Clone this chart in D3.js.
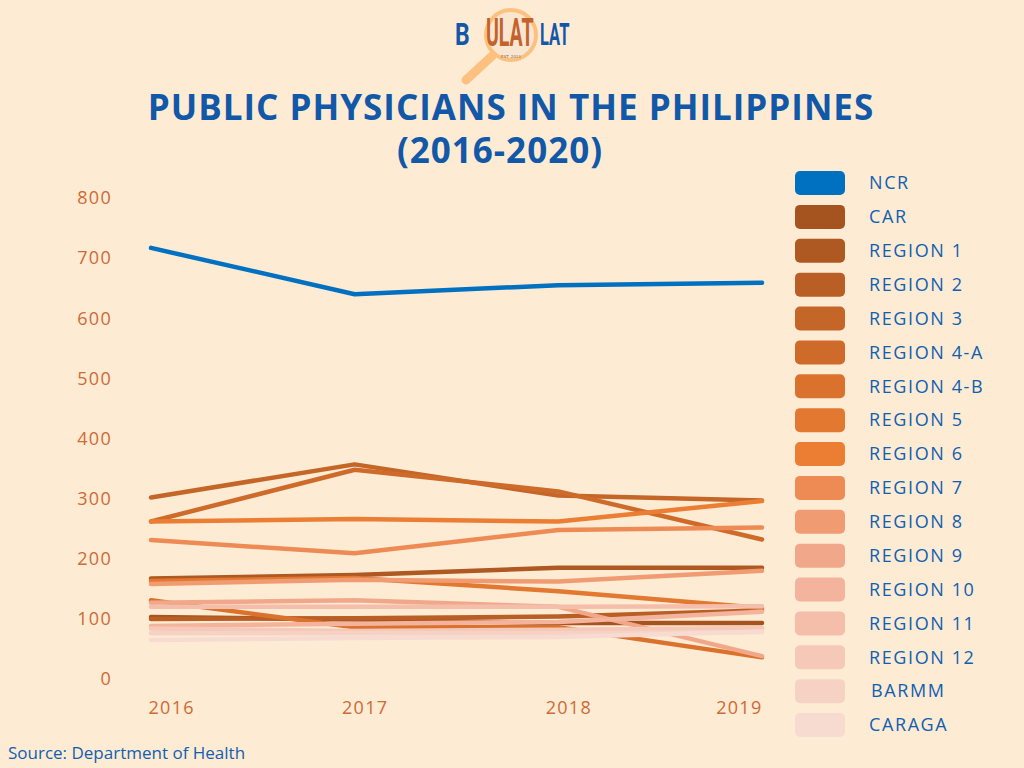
<!DOCTYPE html>
<html>
<head>
<meta charset="utf-8">
<script src="https://cdn.jsdelivr.net/npm/d3@7"></script>
<style>
  body { margin: 0; background: #feebd4; }
  svg { display: block; }
</style>
</head>
<body>
<div id="chart"></div>
<script>
// chart data
var years = ["2016", "2017", "2018", "2019"];
var regions = ["NCR", "CAR", "REGION 1", "REGION 2", "REGION 3", "REGION 4-A", "REGION 4-B",
  "REGION 5", "REGION 6", "REGION 7", "REGION 8", "REGION 9", "REGION 10", "REGION 11",
  "REGION 12", "BARMM", "CARAGA"];
var ncr = [717, 640, 655, 659];
var car = [103, 99, 93, 93];
var region1 = [167, 173, 185, 185];
var region2 = [100, 101, 104, 114];
var region3 = [302, 357, 305, 297];
var region4a = [262, 348, 312, 232];
var region4b = [131, 86, 86, 36];
var region5 = [163, 168, 146, 118];
var region6 = [262, 266, 262, 296];
var region7 = [231, 209, 248, 252];
var region8 = [158, 165, 162, 180];
var region9 = [127, 131, 120, 38];
var region10 = [88, 92, 95, 112];
var region11 = [120, 120, 120, 121];
var region12 = [84, 80, 82, 85];
var barmm = [76, 76, 76, 78];
var caraga = [65, 68, 70, 79];
var yTicks = [0, 100, 200, 300, 400, 500, 600, 700, 800];

var seriesValues = [ncr, car, region1, region2, region3, region4a, region4b, region5, region6,
  region7, region8, region9, region10, region11, region12, barmm, caraga];

var colors = ["#0070c0", "#a5531f", "#ae5822", "#b95e24", "#c46628", "#cf6b2a", "#da722e",
  "#e37831", "#ec7e33", "#ee8b55", "#f09b72", "#f1a88a", "#f3b39d", "#f4beab", "#f5c8b8",
  "#f6d2c5", "#f7dbd1"];

var blue = "#1060b0";
var tickColor = "#cd6a35";

var svgWidth = 1024;
var svgHeight = 768;

var svg = d3.select("#chart")
  .append("svg")
  .attr("width", svgWidth)
  .attr("height", svgHeight);

svg.append("rect")
  .attr("width", svgWidth)
  .attr("height", svgHeight)
  .attr("fill", "#feebd4");

// logo (magnifier + tall narrow letters, stretched vertically)
var logo = svg.append("g");
logo.append("line")
  .attr("x1", 492).attr("y1", 56)
  .attr("x2", 466).attr("y2", 80)
  .attr("stroke", "#fdc17f")
  .attr("stroke-width", 9)
  .attr("stroke-linecap", "round");
logo.append("circle")
  .attr("cx", 511).attr("cy", 35).attr("r", 25)
  .attr("fill", "#f8e6d0")
  .attr("stroke", "#fdc17f")
  .attr("stroke-width", 4);

function logoText(x, y, size, sy, str, color) {
  logo.append("text")
    .attr("transform", `translate(${x}, ${y}) scale(1, ${sy})`)
    .attr("font-family", "Roboto, sans-serif")
    .attr("font-weight", "bold")
    .attr("font-size", size)
    .attr("fill", color)
    .text(str);
}
logoText(455, 45, 23, 1.35, "B", "#1358a8");
logoText(486, 46, 19.5, 2.0, "ULAT", "#c4622d");
logoText(540, 45, 16.5, 1.85, "LAT", "#1358a8");
logo.append("text")
  .attr("x", 511).attr("y", 58)
  .attr("text-anchor", "middle")
  .attr("font-family", "DejaVu Sans, sans-serif")
  .attr("font-size", 4)
  .attr("fill", "#8a6a55")
  .text("EST.   2013");

// title
svg.append("text")
  .attr("x", 511).attr("y", 120)
  .attr("text-anchor", "middle")
  .attr("font-family", "Open Sans, sans-serif")
  .attr("font-weight", "bold")
  .attr("font-size", 35)
  .attr("letter-spacing", "1px")
  .attr("fill", "#1158a8")
  .text("PUBLIC PHYSICIANS IN THE PHILIPPINES");
svg.append("text")
  .attr("x", 500).attr("y", 163)
  .attr("text-anchor", "middle")
  .attr("font-family", "Open Sans, sans-serif")
  .attr("font-weight", "bold")
  .attr("font-size", 35)
  .attr("letter-spacing", "1px")
  .attr("fill", "#1158a8")
  .text("(2016-2020)");

// scales
var xScale = d3.scalePoint()
  .domain(years)
  .range([151, 762]);

var yScale = d3.scaleLinear()
  .domain([0, 800])
  .range([679, 198]);

// y axis labels only, no lines
var yAxis = d3.axisLeft(yScale).tickValues(yTicks).tickSize(0).tickPadding(0);
var yAxisGroup = svg.append("g")
  .attr("transform", "translate(112, 0)")
  .call(yAxis);
yAxisGroup.select(".domain").remove();
yAxisGroup.selectAll("text")
  .attr("font-family", "Open Sans, sans-serif")
  .attr("font-size", 18)
  .attr("letter-spacing", "1.3px")
  .attr("fill", tickColor);

// x axis labels: first flush left, last flush right, middle ones a bit right
var xAxis = d3.axisBottom(xScale).tickSize(0).tickPadding(0);
var xAxisGroup = svg.append("g")
  .attr("transform", "translate(0, 701)")
  .call(xAxis);
xAxisGroup.select(".domain").remove();
xAxisGroup.selectAll("text")
  .attr("font-family", "Open Sans, sans-serif")
  .attr("font-size", 18)
  .attr("letter-spacing", "1.3px")
  .attr("fill", tickColor)
  .attr("text-anchor", (d, i) => i === 0 ? "start" : (i === years.length - 1 ? "end" : "middle"))
  .attr("dx", (d, i) => i === 0 ? -3 : (i === years.length - 1 ? 0 : 10));

// lines
var line = d3.line()
  .x((d, i) => xScale(years[i]))
  .y(d => yScale(d));

svg.append("g")
  .selectAll("path")
  .data(seriesValues)
  .enter()
  .append("path")
  .attr("d", d => line(d))
  .attr("fill", "none")
  .attr("stroke", (d, i) => colors[i])
  .attr("stroke-width", 4.5)
  .attr("stroke-linecap", "round")
  .attr("stroke-linejoin", "round");

// legend
var legendY = d3.scalePoint()
  .domain(regions)
  .range([183, 725]);

var legend = svg.append("g")
  .selectAll("g")
  .data(regions)
  .enter()
  .append("g")
  .attr("transform", d => `translate(0, ${legendY(d)})`);

legend.append("rect")
  .attr("x", 795)
  .attr("y", -12)
  .attr("width", 50)
  .attr("height", 24)
  .attr("rx", 5)
  .attr("fill", (d, i) => colors[i]);

legend.append("text")
  .attr("x", (d) => d === "BARMM" ? 871 : 869)
  .attr("y", 0)
  .attr("dy", "0.35em")
  .attr("font-family", "Open Sans, sans-serif")
  .attr("font-size", 18)
  .attr("letter-spacing", "1.6px")
  .attr("fill", blue)
  .text(d => d);

// source
svg.append("text")
  .attr("x", 8).attr("y", 759)
  .attr("font-family", "Open Sans, sans-serif")
  .attr("font-size", 17)
  .attr("fill", blue)
  .text("Source: Department of Health");
</script>
</body>
</html>
